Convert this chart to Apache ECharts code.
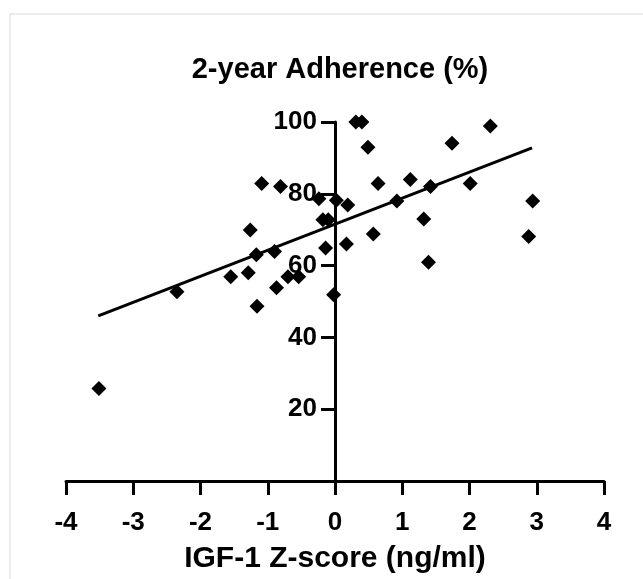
<!DOCTYPE html>
<html>
<head>
<meta charset="utf-8">
<title>2-year Adherence</title>
<script src="https://cdn.jsdelivr.net/npm/echarts@6/dist/echarts.min.js"></script>
<style>
    html, body { margin: 0; padding: 0; background: #fff; }
    #main { width: 643px; height: 579px; }
</style>
</head>
<body>
<div id="main"></div>
<script>
var igfZ = [-3.51, -2.35, -1.55, -1.29, -1.26, -1.17, -1.16, -1.09, -0.90, -0.87, -0.81, -0.70,
    -0.54, -0.24, -0.18, -0.10, -0.14, -0.02, 0.02, 0.19, 0.17, 0.31, 0.40, 0.49,
    0.57, 0.64, 0.92, 1.12, 1.32, 1.39, 1.42, 1.74, 2.01, 2.31, 2.88, 2.94];
var adherence = [25.8, 52.7, 56.9, 58.0, 69.9, 63.0, 48.7, 82.9, 63.9, 53.8, 82.0, 56.9,
    56.9, 78.6, 72.8, 72.8, 64.9, 51.9, 78.2, 76.9, 66.0, 100, 100, 93.0,
    68.8, 82.9, 78.0, 84.0, 73.0, 60.9, 82.0, 94.1, 82.9, 98.9, 68.1, 78.0];
// fitted line, end points
var fitX = [-3.52, 2.93];
var fitY = [46.0, 92.8];
var xTicks = [-4, -3, -2, -1, 0, 1, 2, 3, 4];
var yTicks = [20, 40, 60, 80, 100];

var font = '"Liberation Sans", Arial, sans-serif';
var black = '#000';

var gridLeft = 66, gridRight = 39;
var plotWidth = 643 - gridLeft - gridRight;
// y axis sits on x = 0, move it in from the grid edge
var yOffset = -plotWidth * (0 - xTicks[0]) / (xTicks[xTicks.length - 1] - xTicks[0]);

var points = [];
for (var i = 0; i < igfZ.length; i++) {
    points.push([igfZ[i], adherence[i]]);
}
var fitLine = [];
for (var j = 0; j < fitX.length; j++) {
    fitLine.push([fitX[j], fitY[j]]);
}

var myChart = echarts.init(document.getElementById('main'));
var option = {
    backgroundColor: '#fff',
    animation: false,
    title: {
        text: '2-year Adherence (%)',
        left: 335,
        top: 50,
        textAlign: 'center',
        textStyle: {
            fontFamily: font,
            fontWeight: 'bold',
            fontSize: 29,
            color: black
        }
    },
    graphic: [{
        type: 'rect',
        shape: { x: 10, y: 14, width: 700, height: 700 },
        style: { fill: 'none', stroke: '#d9d9d9', lineWidth: 1 },
        silent: true
    }],
    grid: {
        left: gridLeft,
        right: gridRight,
        top: 122,
        bottom: 98,
        containLabel: false
    },
    xAxis: {
        type: 'value',
        min: xTicks[0],
        max: xTicks[xTicks.length - 1],
        interval: 1,
        name: 'IGF-1 Z-score (ng/ml)',
        nameLocation: 'middle',
        nameGap: 63,
        nameTextStyle: {
            fontFamily: font,
            fontWeight: 'bold',
            fontSize: 30,
            color: black
        },
        splitLine: { show: false },
        axisLine: { onZero: false, lineStyle: { color: black, width: 3 } },
        axisTick: { length: 14, lineStyle: { color: black, width: 3 } },
        axisLabel: {
            margin: 29,
            fontFamily: font,
            fontWeight: 'bold',
            fontSize: 26,
            color: black
        }
    },
    yAxis: {
        type: 'value',
        position: 'left',
        offset: yOffset,
        min: 0,
        max: yTicks[yTicks.length - 1],
        interval: 20,
        splitLine: { show: false },
        axisLine: { show: true, onZero: false, lineStyle: { color: black, width: 3 } },
        axisTick: { show: true, length: 14, lineStyle: { color: black, width: 3 } },
        axisLabel: {
            margin: 18,
            fontFamily: font,
            fontWeight: 'bold',
            fontSize: 26,
            color: black,
            formatter: function (v) {
                return yTicks.indexOf(v) >= 0 ? String(v) : '';
            }
        }
    },
    series: [
        {
            name: 'fit',
            type: 'line',
            data: fitLine,
            symbol: 'none',
            lineStyle: { color: black, width: 3 },
            z: 2
        },
        {
            name: 'patients',
            type: 'scatter',
            data: points,
            symbol: 'diamond',
            symbolSize: 15,
            itemStyle: { color: black, opacity: 1 },
            z: 3
        }
    ]
};
myChart.setOption(option);
</script>
</body>
</html>
